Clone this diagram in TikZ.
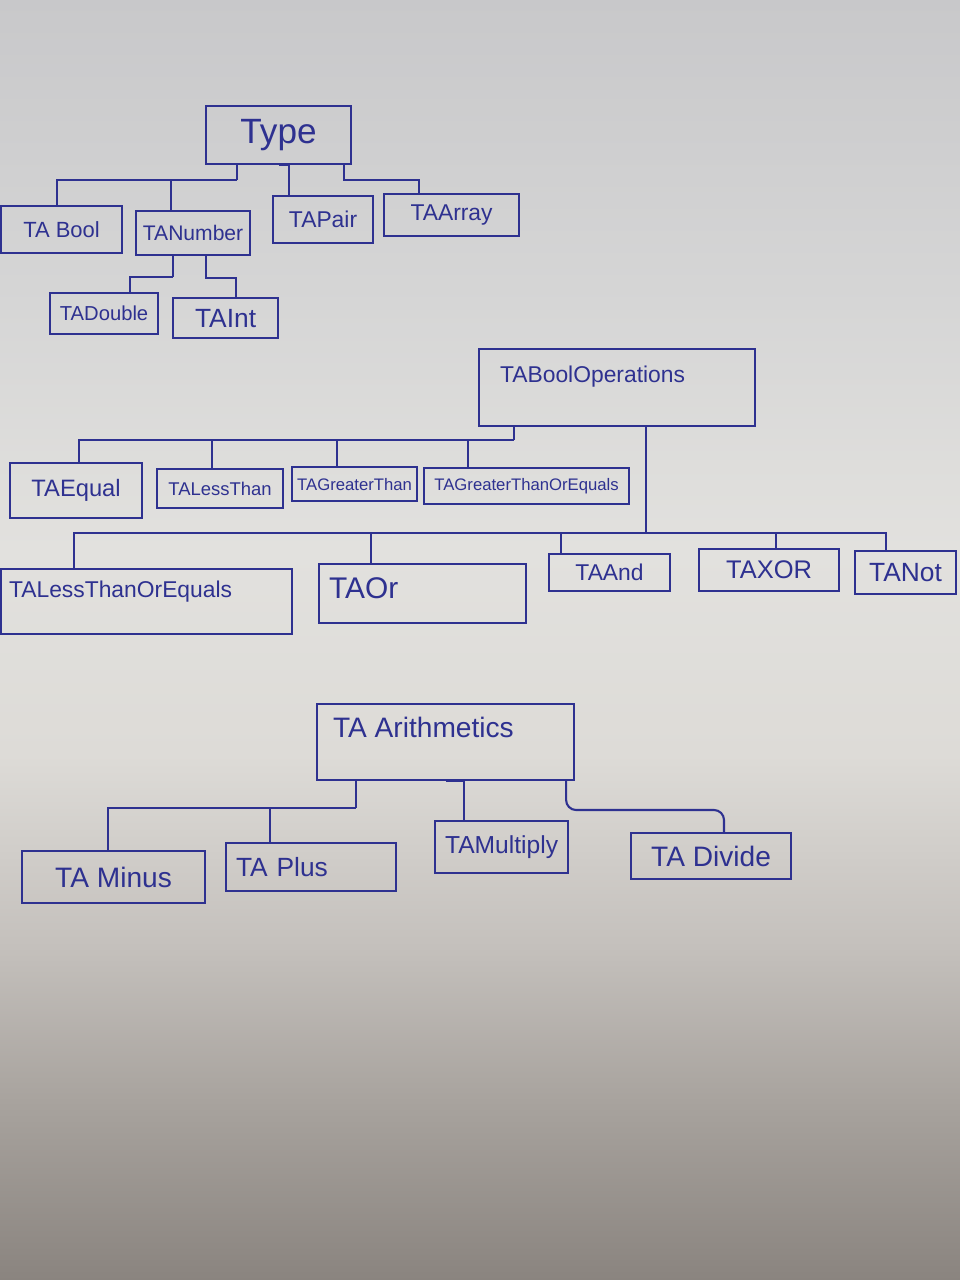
\documentclass[tikz,border=0pt]{standalone}
\usepackage{fontspec}
\setmainfont{Liberation Sans}
\definecolor{ink}{HTML}{2E3190}
\definecolor{paperTop}{HTML}{C8C8CA}
\definecolor{paperUp}{HTML}{D6D6D6}
\definecolor{paperMid}{HTML}{E2E1DE}
\definecolor{paperLow}{HTML}{DDDBD7}
\definecolor{paperDim}{HTML}{C4C0BC}
\definecolor{paperDark}{HTML}{A8A39E}
\definecolor{paperBot}{HTML}{8A847F}
\pgfdeclareverticalshading{paper}{100bp}{color(0bp)=(paperBot); color(25bp)=(paperBot);
  color(32bp)=(paperDark); color(38bp)=(paperDim); color(45.5bp)=(paperLow);
  color(53.5bp)=(paperMid); color(63bp)=(paperUp); color(75bp)=(paperTop); color(100bp)=(paperTop)}
\newdimen\px \px=0.2mm
\newcommand{\fsz}[1]{\fontsize{#1pt}{#1pt}\selectfont}
\begin{document}
\begin{tikzpicture}[x=0.2mm, y=-0.2mm, line width=1.2pt, ink,
  box/.style = {draw=ink, anchor=north west, inner sep=2pt, text=ink},
  wh/.style 2 args = {minimum width=#1\px, minimum height=#2\px},
  lbl/.style = {anchor=north west, inner sep=0pt, text=ink}]
\useasboundingbox (0,0) rectangle (960,1280);
\shade[shading=paper] (0,0) rectangle (960,1280);

% Type tree
\node[box, wh={145}{58}, font=\fsz{20}] (type) at (205,105) {Type};
\node[box, wh={121}{47}, font=\fsz{12.5}] (bool) at (0,205) {TA Bool};
\node[box, wh={114}{44}, font=\fsz{12}] (number) at (135,210) {TANumber};
\node[box, wh={100}{47}, font=\fsz{13}] (pair) at (272,195) {TAPair};
\node[box, wh={135}{42}, font=\fsz{13}] (array) at (383,193) {TAArray};
\node[box, wh={108}{41}, font=\fsz{11.5}] (double) at (49,292) {TADouble};
\node[box, wh={105}{40}, font=\fsz{15}] (int) at (172,297) {TAInt};

\coordinate (tbus) at (237,180);
\coordinate (abus) at (419,180);
\coordinate (nbus) at (173,277);
\coordinate (ibus) at (236,278);
\draw (tbus |- type.south) -- (tbus);
\draw ([xshift=-4.5\px]bool.north) |- (tbus);
\draw ([xshift=-22\px]number.north) |- (tbus);
\draw ([xshift=-34\px]pair.north) |- (type.south);
\draw ([xshift=-8\px]type.south east) |- (abus) -- (abus |- array.north);
\draw (nbus |- number.south) -- (nbus);
\draw ([xshift=26\px]double.north) |- (nbus);
\draw ([xshift=13\px]number.south) |- (ibus) -- (ibus |- int.north);

% bool operations
\node[box, wh={276}{77}, label={[lbl, font=\fsz{13}, xshift=21\px, yshift=-17\px]north west:TABoolOperations}] (boolops) at (478,348) {};
\node[box, wh={132}{55}, font=\fsz{13.5}] (equal) at (9,462) {TAEqual};
\node[box, wh={126}{39}, font=\fsz{10.5}] (lessthan) at (156,468) {TALessThan};
\node[box, wh={125}{34}, font=\fsz{9.5}] (greater) at (291,466) {TAGreaterThan};
\node[box, wh={205}{36}, font=\fsz{9.5}] (greatereq) at (423,467) {TAGreaterThanOrEquals};
\node[box, wh={291}{65}, label={[lbl, font=\fsz{13}, xshift=8\px, yshift=-12\px]north west:TALessThanOrEquals}] (lesseq) at (0,568) {};
\node[box, wh={207}{59}, label={[lbl, font=\fsz{17}, xshift=10\px, yshift=-14\px]north west:TAOr}] (or) at (318,563) {};
\node[box, wh={121}{37}, font=\fsz{13}] (and) at (548,553) {TAAnd};
\node[box, wh={140}{42}, font=\fsz{14.5}] (xor) at (698,548) {TAXOR};
\node[box, wh={101}{43}, font=\fsz{15}] (not) at (854,550) {TANot};

\coordinate (obus) at (514,440);
\coordinate (qbus) at (646,533);
\draw (obus |- boolops.south) -- (obus);
\draw ([xshift=3\px]equal.north) |- (obus);
\draw ([xshift=-8\px]lessthan.north) |- (obus);
\draw ([xshift=-17.5\px]greater.north) |- (obus);
\draw ([xshift=-58.5\px]greatereq.north) |- (obus);
\draw (qbus |- boolops.south) -- (qbus);
\draw ([xshift=-72.5\px]lesseq.north) |- (qbus);
\draw ([xshift=-51.5\px]or.north) |- (qbus);
\draw ([xshift=-48.5\px]and.north) |- (qbus);
\draw ([xshift=7\px]xor.north) |- (qbus);
\draw ([xshift=-19.5\px]not.north) |- (qbus);

% arithmetics
\node[box, wh={257}{76}, label={[lbl, font=\fsz{16}, xshift=16\px, yshift=-13\px]north west:TA Arithmetics}] (arith) at (316,703) {};
\node[box, wh={183}{52}, font=\fsz{16}] (minus) at (21,850) {TA Minus};
\node[box, wh={170}{48}, font=\fsz{15}, text width=150\px, align=left] (plus) at (225,842) {TA Plus};
\node[box, wh={133}{52}, font=\fsz{14}] (multiply) at (434,820) {TAMultiply};
\node[box, wh={160}{46}, font=\fsz{16}] (divide) at (630,832) {TA Divide};

\coordinate (mbus) at (356,808);
\coordinate (dbus) at (724,810);
\draw (mbus |- arith.south) -- (mbus);
\draw ([xshift=-5.5\px]minus.north) |- (mbus);
\draw ([xshift=-41\px]plus.north) |- (mbus);
\draw ([xshift=-37.5\px]multiply.north) |- (arith.south);
\draw[rounded corners=2mm] ([xshift=-9\px]arith.south east) |- (dbus) -- (dbus |- divide.north);
\end{tikzpicture}
\end{document}
